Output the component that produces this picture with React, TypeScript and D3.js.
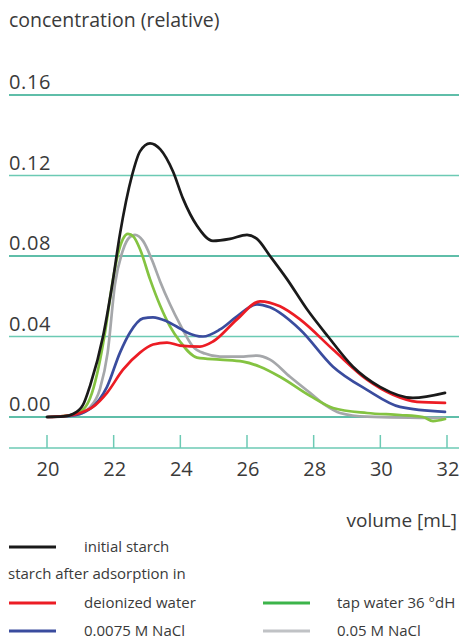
import React from "react";
import * as d3 from "d3";

// Elution profiles: [volume mL, relative concentration]
const initialStarch: [number, number][] = [
  [20, 0], [20.5, 0.0003], [20.78, 0.0015], [21.08, 0.006], [21.3, 0.016], [21.68, 0.04],
  [21.95, 0.065], [22.19, 0.091], [22.55, 0.12], [22.79, 0.132], [23.09, 0.136],
  [23.4, 0.133], [23.78, 0.122], [24.08, 0.1085], [24.5, 0.095], [24.98, 0.0875],
  [25.49, 0.0885], [26.0, 0.0905], [26.3, 0.0885], [26.69, 0.08], [27.2, 0.0685],
  [27.8, 0.0535], [28.43, 0.04], [29.18, 0.025], [29.99, 0.015], [30.98, 0.0095],
  [31.94, 0.012],
];

const deionizedWater: [number, number][] = [
  [20.03, 0], [20.5, 0.0004], [20.99, 0.002], [21.38, 0.005], [21.8, 0.012], [22.28, 0.0235],
  [22.79, 0.032], [23.18, 0.036], [23.6, 0.037], [23.99, 0.0355], [24.59, 0.035],
  [24.98, 0.0375], [25.7, 0.0485], [26.39, 0.0575], [26.99, 0.055], [27.59, 0.0485],
  [28.58, 0.0335], [29.6, 0.0185], [30.38, 0.011], [31.1, 0.0075], [31.94, 0.007],
];

const tapWater: [number, number][] = [
  [20, 0], [20.69, 0.0008], [21.1, 0.004], [21.35, 0.012], [21.55, 0.025], [21.74, 0.042],
  [21.98, 0.0685], [22.13, 0.081], [22.28, 0.0885], [22.43, 0.091], [22.6, 0.0895],
  [22.8, 0.083], [23.09, 0.0685], [23.39, 0.0555], [23.69, 0.045], [23.99, 0.0375],
  [24.5, 0.0295], [25.19, 0.0285], [25.88, 0.0275], [26.39, 0.025], [26.99, 0.02],
  [27.89, 0.0105], [28.58, 0.0045], [29.6, 0.002], [30.59, 0.001], [31.28, 0],
  [31.58, -0.002], [31.94, -0.001],
];

const nacl0075: [number, number][] = [
  [20, 0], [20.69, 0.0005], [21.29, 0.004], [21.8, 0.015], [22.19, 0.032],
  [22.49, 0.042], [22.88, 0.049], [23.18, 0.0495], [23.6, 0.0475], [23.99, 0.044],
  [24.2, 0.042], [24.68, 0.04], [25.19, 0.0435], [25.7, 0.05], [26.3, 0.056],
  [26.69, 0.0545], [27.59, 0.0435], [28.58, 0.025], [29.6, 0.0135], [30.59, 0.005],
  [31.94, 0.0025],
];

const nacl005: [number, number][] = [
  [20, 0], [20.84, 0.0008], [21.3, 0.005], [21.59, 0.014], [21.82, 0.032],
  [22.04, 0.066], [22.28, 0.083], [22.49, 0.0895], [22.64, 0.0905], [22.88, 0.0875],
  [23.15, 0.078], [23.39, 0.0675], [23.69, 0.056], [23.99, 0.046], [24.38, 0.035],
  [24.74, 0.0315], [25.19, 0.03], [25.79, 0.03], [26.3, 0.0305], [26.69, 0.0285],
  [27.29, 0.02], [27.89, 0.012], [28.34, 0.006], [28.79, 0.002], [29.6, 0.0002],
  [31.94, -0.0005],
];

const yTicks = [0, 0.04, 0.08, 0.12, 0.16];
const xTicks = [20, 22, 24, 26, 28, 30, 32];

const series = [
  { name: "nacl005", data: nacl005, color: "#a5a7aa" },
  { name: "tap", data: tapWater, color: "#84c341" },
  { name: "nacl0075", data: nacl0075, color: "#3a4c9e" },
  { name: "deionized", data: deionizedWater, color: "#ec1c24" },
  { name: "initial", data: initialStarch, color: "#1a1a1a" },
];

const W = 459;
const H = 640;
const FONT = "'Open Sans', 'Noto Sans', sans-serif";
const TEXT = "#3a3a3a";
const TEAL = "#2aa88c";
const TEAL_LIGHT = "#6ccab4";

export default function App() {
  const x = d3.scaleLinear().domain([20, 32]).range([47, 447]);
  const y = d3.scaleLinear().domain([0, 0.16]).range([417, 95]);
  const line = d3
    .line<[number, number]>()
    .x((d) => x(d[0]))
    .y((d) => y(d[1]))
    .curve(d3.curveMonotoneX);

  const axisY = 448;

  return (
    <svg
      width={W}
      height={H}
      style={{ position: "absolute", left: 0, top: 0, background: "#fff" }}
      fontFamily={FONT}
    >
      <text x={9} y={27} fontSize={19.5} fill={TEXT}>
        concentration (relative)
      </text>

      {yTicks.map((t, i) => (
        <g key={t}>
          <line
            x1={9}
            x2={W}
            y1={y(t)}
            y2={y(t)}
            stroke={i % 2 === 1 ? TEAL_LIGHT : TEAL}
            strokeWidth={1.5}
          />
          <text x={9} y={y(t) - 6} fontSize={20} letterSpacing={0.6} fill={TEXT}>
            {t.toFixed(2)}
          </text>
        </g>
      ))}

      {/* x axis with upward ticks */}
      <line x1={9} x2={W} y1={axisY} y2={axisY} stroke={TEAL_LIGHT} strokeWidth={1.5} />
      {xTicks.map((t) => (
        <g key={t}>
          <line x1={x(t)} x2={x(t)} y1={axisY - 13} y2={axisY} stroke={TEAL_LIGHT} strokeWidth={1.5} />
          <text x={x(t) + 1} y={476} fontSize={20} fill={TEXT} textAnchor="middle">
            {t}
          </text>
        </g>
      ))}
      <text x={457} y={527} fontSize={19} fill={TEXT} textAnchor="end">
        volume [mL]
      </text>

      {series.map((s) => (
        <path
          key={s.name}
          d={line(s.data) || ""}
          fill="none"
          stroke={s.color}
          strokeWidth={2.7}
          strokeLinejoin="round"
          strokeLinecap="round"
        />
      ))}

      {/* legend */}
      <g fontSize={15} fill={TEXT}>
        <line x1={9} x2={56} y1={547} y2={547} stroke="#1a1a1a" strokeWidth={3} />
        <text x={84} y={552}>initial starch</text>
        <text x={8} y={579}>starch after adsorption in</text>
        <line x1={9} x2={56} y1={603} y2={603} stroke="#ec1c24" strokeWidth={3} />
        <text x={84} y={608}>deionized water</text>
        <line x1={263} x2={310} y1={603} y2={603} stroke="#3cb44a" strokeWidth={3} />
        <text x={337} y={608}>tap water 36 °dH</text>
        <line x1={9} x2={56} y1={631} y2={631} stroke="#3a4c9e" strokeWidth={3} />
        <text x={84} y={636}>0.0075 M NaCl</text>
        <line x1={263} x2={310} y1={631} y2={631} stroke="#c0c2c5" strokeWidth={3} />
        <text x={337} y={636}>0.05 M NaCl</text>
      </g>
    </svg>
  );
}
